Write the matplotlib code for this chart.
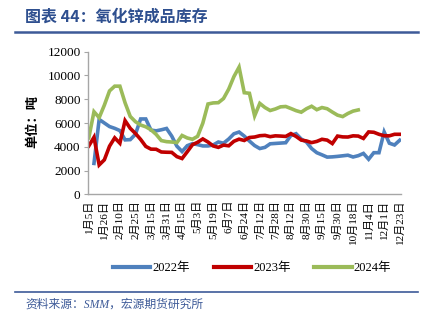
import matplotlib
matplotlib.use("Agg")
import matplotlib.pyplot as plt
import numpy as np
from matplotlib.lines import Line2D

plt.rcParams['font.family'] = ['Liberation Serif', 'Noto Sans CJK SC', 'DejaVu Sans']

label_dates = ["1月5日", "1月26日", "2月10日", "2月25日", "3月15日", "3月31日", "4月15日",
               "5月3日", "5月19日", "6月7日", "6月24日", "7月12日", "7月28日", "8月12日",
               "8月30日", "9月15日", "9月30日", "10月18日", "11月4日", "12月1日", "12月23日"]
label_every = 3
n_cat = 61

nan = np.nan
s2022 = [nan, 2600, 6300, 6000, 5700, 5550, 5360, 4580, 4600, 5050,
         6340, 6340, 5400, 5340, 5430, 5540, 4900, 4050, 3600, 4090,
         4260, 4180, 4070, 4070, 4150, 4400, 4300, 4650, 5090, 5240,
         4900, 4480, 4100, 3850, 3950, 4250, 4280, 4310, 4340, 4950,
         5100, 4650, 4400, 3850, 3500, 3320, 3130, 3150, 3190, 3240,
         3290, 3140, 3250, 3440, 2950, 3500, 3500, 5250, 4300, 4150,
         4550]
s2023 = [4070, 4800, 2470, 2900, 4050, 4750, 4300, 6200, 5550, 5120,
         4620, 4030, 3800, 3790, 3560, 3540, 3530, 3170, 3010, 3580,
         4170, 4380, 4660, 4400, 4070, 3950, 4140, 4080, 4460, 4640,
         4530, 4780, 4820, 4930, 4960, 4850, 4920, 4900, 4870, 5110,
         4870, 4560, 4490, 4350, 4450, 4630, 4560, 4270, 4900, 4830,
         4820, 4920, 4900, 4700, 5250, 5220, 5050, 4930, 4920, 5050,
         5050]
s2024 = [4750, 6950, 6450, 7500, 8700, 9100, 9100, 7700, 6550, 6110,
         5830, 5680, 5430, 5040, 4520, 4430, 4400, 4350, 4950, 4740,
         4630, 4880, 5980, 7600, 7690, 7710, 8060, 8850, 9900, 10700,
         8550, 8500, 6600, 7650, 7300, 7050, 7180, 7360, 7390, 7220,
         7040, 6910, 7200, 7410, 7120, 7300, 7200, 6920, 6660, 6540,
         6800, 7000, 7100]

series = [("2022年", s2022, "#4F81BD"),
          ("2023年", s2023, "#C00000"),
          ("2024年", s2024, "#9BBB59")]

fig = plt.figure(figsize=(4.32, 3.28), dpi=100)
ax = fig.add_axes([87.5/432, 1-194.3/328, (401-87.5)/432, (194.3-51.7)/328])

x_all = np.arange(n_cat)
for name, vals, col in series:
    ax.plot(x_all[:len(vals)], vals, color=col, lw=2.6, label=name, solid_joinstyle='miter')

ax.set_xlim(-0.25, n_cat - 1 + 0.25)
ax.set_ylim(0, 12000)
ax.set_yticks(np.arange(0, 12001, 2000))
ax.tick_params(axis='y', labelsize=9.5, length=3, width=0.8, color='#A6A6A6', pad=2)
ax.set_xticks(np.arange(0, n_cat, label_every))
ax.set_xticklabels(label_dates, rotation=90, fontsize=8)
ax.tick_params(axis='x', length=0, pad=4)
for sp in ['top', 'right']:
    ax.spines[sp].set_visible(False)
for sp in ['left', 'bottom']:
    ax.spines[sp].set_color('#A6A6A6')
    ax.spines[sp].set_linewidth(1.0)

fig.text(32/432, 1-122/328, "单位：吨", rotation=90, ha='center', va='center',
         fontsize=9.5, fontweight='bold', family=['Noto Sans CJK SC'])

handles = [Line2D([0], [0], color=c, lw=3) for _, _, c in series]
fig.legend(handles, [n for n, _, _ in series], loc='center', ncol=3,
           bbox_to_anchor=(252/432, 1-268/328), frameon=False, fontsize=9,
           handlelength=3.0, handletextpad=0.15, columnspacing=1.9)

navy = '#2E4F8F'
fig.text(25/432, 1-17/328, "图表 44：氧化锌成品库存", ha='left', va='center',
         fontsize=11.5, fontweight='bold', color=navy, family=['Noto Sans CJK SC'])
fig.add_artist(Line2D([15/432, 418/432], [1-31.5/328, 1-31.5/328], color='#3D5A98', lw=1.8))
fig.add_artist(Line2D([15/432, 418/432], [1-292/328, 1-292/328], color='#3D5A98', lw=1.2))
fig.text(25/432, 1-305/328, "资料来源：SMM，宏源期货研究所", ha='left', va='center',
         fontsize=8.5, style='italic', color='#3D5A98',
         family=['Liberation Serif', 'Noto Sans CJK SC'])

fig.savefig("out.png", dpi=100)
